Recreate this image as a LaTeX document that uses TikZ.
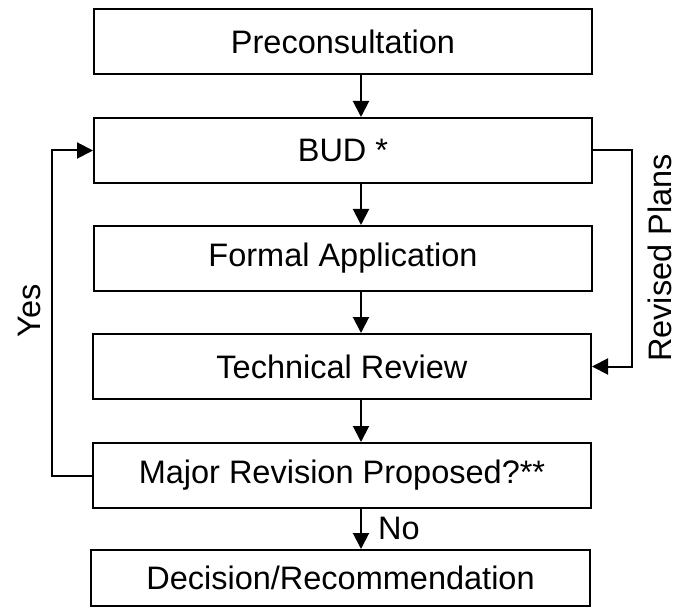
\documentclass[tikz,border=0pt]{standalone}
\usepackage{fontspec}
\setmainfont{Liberation Sans}
\usetikzlibrary{arrows.meta}
\begin{document}
\begin{tikzpicture}[x=1pt,y=-1pt,
  box/.style={draw, line width=2pt, minimum width=498pt, minimum height=65pt, inner sep=0pt, font=\fontsize{32.5}{37}\selectfont},
  conn/.style={line width=2pt, -{Triangle[width=16pt,length=16pt]}},
  lbl/.style={font=\fontsize{32.5}{37}\selectfont, inner sep=0pt}]
\useasboundingbox (0,0) rectangle (677,612);
\node[box] (pre) at (343,41.5) {Preconsultation};
\node[box] (bud) at (343,150.5) {BUD *};
\node[box] (form) at (343,258.5) {Formal Application};
\node[box] (tech) at (342,366.5) {Technical Review};
\node[box] (maj) at (342,475.5) {Major Revision Proposed?**};
\node[box, minimum width=499pt, minimum height=56pt] (dec) at (340.5,578) {Decision/Recommendation};
\coordinate (ax) at (361,0);
\draw[conn] (pre.south -| ax) -- (bud.north -| ax);
\draw[conn] (bud.south -| ax) -- (form.north -| ax);
\draw[conn] (form.south -| ax) -- (tech.north -| ax);
\draw[conn] (tech.south -| ax) -- (maj.north -| ax);
\draw[conn] (maj.south -| ax) -- (dec.north -| ax);
\draw[conn] (maj.west) -- ++(-40,0) |- (bud.west);
\draw[conn] (bud.east) -- ++(39,0) |- (tech.east);
\node[lbl, rotate=90] (yes) at (29,311) {Yes};
\node[lbl, rotate=90] (rev) at (660,258) {Revised Plans};
\node[lbl] (no) at (399,528) {No};
\end{tikzpicture}
\end{document}
